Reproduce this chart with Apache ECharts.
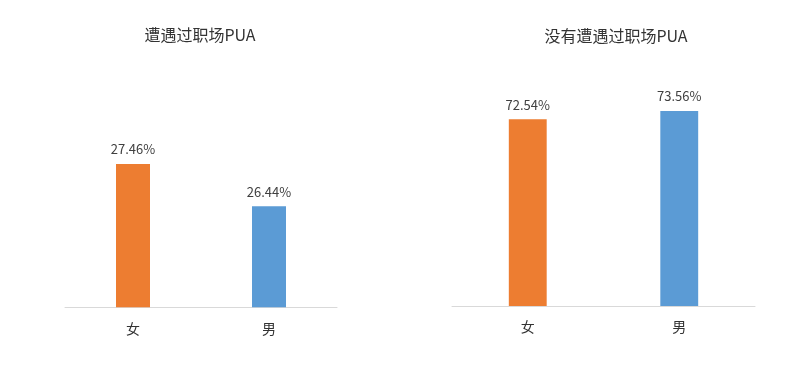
<!DOCTYPE html>
<html>
<head>
<meta charset="utf-8">
<script src="https://cdn.jsdelivr.net/npm/echarts@6/dist/echarts.min.js"></script>
<style>html,body{margin:0;padding:0;background:#fff;}#c{width:789px;height:367px;}</style>
</head>
<body>
<div id="c"></div>
<script>
const categories = ['女', '男'];
const titles = ['遭遇过职场PUA', '没有遭遇过职场PUA'];
const valuesPUA = [27.46, 26.44];
const valuesNoPUA = [72.54, 73.56];
const barColors = ['#ED7D31', '#5B9BD5'];

const chart = echarts.init(document.getElementById('c'), null, {renderer: 'canvas'});
const font = '"Microsoft YaHei","Noto Sans CJK SC","Noto Sans",sans-serif';

function mkData(vals) {
  return vals.map((v, i) => ({value: v, itemStyle: {color: barColors[i]}}));
}
function xAx(gi) {
  return {
    type: 'category', gridIndex: gi, data: categories,
    axisLine: {lineStyle: {color: '#d9d9d9', width: 1}},
    axisTick: {show: false},
    axisLabel: {color: '#333', fontSize: 14, margin: 14, fontFamily: font}
  };
}
function yAx(gi, min, max) {
  return {
    type: 'value', gridIndex: gi, min: min, max: max, show: false,
    splitLine: {show: false}
  };
}
function ser(gi, vals) {
  return {
    type: 'bar', xAxisIndex: gi, yAxisIndex: gi, data: mkData(vals),
    barWidth: '25%',
    label: {show: true, position: 'top', distance: 8, color: '#404040', fontSize: 13, fontFamily: font,
      formatter: p => p.value.toFixed(2) + '%'}
  };
}

chart.setOption({
  animation: false,
  backgroundColor: '#fff',
  title: [
    {text: titles[0], left: 200, top: 27, textAlign: 'center', padding: 0,
      textStyle: {color: '#333', fontSize: 16, fontWeight: 'normal', fontFamily: font}},
    {text: titles[1], left: 616, top: 28, textAlign: 'center', padding: 0,
      textStyle: {color: '#333', fontSize: 16, fontWeight: 'normal', fontFamily: font}}
  ],
  grid: [
    {left: 65, right: 452, top: 58.6, bottom: 59.7},
    {left: 452, right: 34, top: 57.6, bottom: 61}
  ],
  xAxis: [xAx(0), xAx(1)],
  yAxis: [yAx(0, 24, 30), yAx(1, 50, 80)],
  series: [ser(0, valuesPUA), ser(1, valuesNoPUA)]
});
</script>
</body>
</html>
